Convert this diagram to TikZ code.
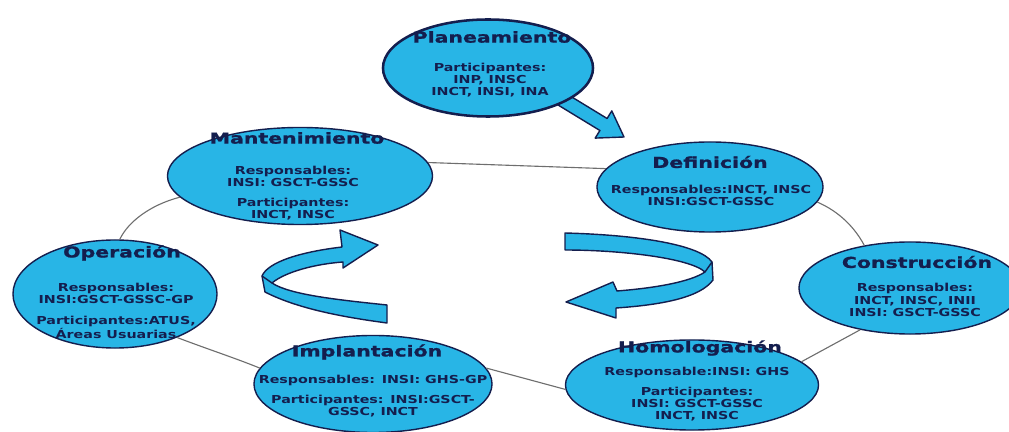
\documentclass[tikz,border=0pt]{standalone}
\usepackage{fontspec}
\usetikzlibrary{shapes.geometric}
\newfontfamily\phasefont[FakeStretch=1.3]{DejaVu Sans}
\newfontfamily\headfont[FakeStretch=1.36, FakeBold=1.2]{DejaVu Sans}
\definecolor{phasefill}{RGB}{40,181,230}
\definecolor{ink}{RGB}{20,30,78}
\definecolor{linkgray}{RGB}{110,110,110}
\tikzset{
  phase/.style={ellipse, draw=ink, line width=1pt, fill=phasefill, inner sep=0pt},
  ttl/.style={font=\headfont\bfseries\fontsize{10.7}{12}\selectfont, text=ink, inner sep=0pt},
  body/.style={font=\phasefont\bfseries\fontsize{7.8}{8.6}\selectfont, text=ink, align=center, inner sep=0pt},
  link/.style={draw=linkgray, line width=0.8pt},
  ribbon/.style={fill=phasefill, draw=ink, line width=1pt, line join=round},
}
\begin{document}
\begin{tikzpicture}[x=0.025cm, y=-0.025cm]
\useasboundingbox (0,0) rectangle (1009,432);

% block arrow leaving the planning phase
\path[ribbon] (556.4,104) -- (599.9,130.5) -- (595.2,138.1) -- (624,137)
  -- (611.8,110.9) -- (607.1,118.5) -- (563.6,92) -- cycle;

% phases of the cycle
\node[phase, line width=1.8pt, minimum width=5.25cm, minimum height=2.425cm] (plan) at (488,68) {};
\node[phase, minimum width=6.625cm, minimum height=2.425cm] (mant) at (300,176) {};
\node[phase, minimum width=5.65cm, minimum height=2.25cm] (def) at (710,187) {};
\node[phase, minimum width=5.1cm, minimum height=2.7cm] (oper) at (115,294) {};
\node[phase, minimum width=5.55cm, minimum height=2.3cm] (constr) at (910,288) {};
\node[phase, minimum width=5.95cm, minimum height=2.425cm] (impl) at (373,384) {};
\node[phase, minimum width=6.325cm, minimum height=2.25cm] (homo) at (692,385) {};

% thin links between neighbouring phases
\draw[link] (mant.6) -- (def.170);
\draw[link] (oper.85) .. controls (128,222) and (150,205) .. (mant.190);
\draw[link] (def.-8) .. controls (840,212) and (855,228) .. (constr.137);
\draw[link] (constr.220) -- (homo.12);
\draw[link] (impl.8) -- (homo.182);
\draw[link] (oper.-35) .. controls (210,350) and (235,358) .. (impl.172);

% phase titles and participants
\node[ttl] (planT) at (492,37) {Planeamiento};
\node[body] (planB) at (490,80) {Participantes:\\INP, INSC\\INCT, INSI, INA};

\node[ttl] (mantT) at (297,138) {Mantenimiento};
\node[body] (mantB) at (293,193) {Responsables:\\INSI: GSCT-GSSC\\[6pt]Participantes:\\INCT, INSC};

\node[ttl] (defT) at (710,162) {Definición};
\node[body] (defB) at (711,195) {Responsables:INCT, INSC\\INSI:GSCT-GSSC};

\node[ttl] (operT) at (122,253) {Operación};
\node[body] (operB) at (116,311) {Responsables:\\INSI:GSCT-GSSC-GP\\[6pt]Participantes:ATUS,\\Áreas Usuarias};

\node[ttl] (constrT) at (917,262) {Construcción};
\node[body] (constrB) at (915,300) {Responsables:\\INCT, INSC, INII\\INSI: GSCT-GSSC};

\node[ttl] (implT) at (367,352) {Implantación};
\node[body] (implB) at (373,396) {Responsables: INSI: GHS-GP\\[6pt]Participantes: INSI:GSCT-\\GSSC, INCT};

\node[ttl] (homoT) at (700,348) {Homologación};
\node[body] (homoB) at (697,394) {Responsable:INSI: GHS\\[6pt]Participantes:\\INSI: GSCT-GSSC\\INCT, INSC};

% twisted ribbon arrow, left (turning back to the right)
\path[ribbon] (378,245) -- (340,230) -- (342,247)
  .. controls (300,252) and (268,262) .. (262,276) -- (265,292)
  .. controls (300,310) and (350,318) .. (387,323) -- (387,305)
  .. controls (340,300) and (290,295) .. (272,283)
  .. controls (285,272) and (315,264) .. (343,262) -- (343,268) -- cycle;
\draw[ink, line width=1pt] (262,276) -- (272,283);

% twisted ribbon arrow, right (turning back to the left)
\path[ribbon] (565,233) .. controls (640,235) and (700,245) .. (712,262)
  -- (713,280) .. controls (700,298) and (660,305) .. (616,308)
  -- (616,318) -- (566,302) -- (613,282) -- (617,291)
  .. controls (655,288) and (690,282) .. (705,272)
  .. controls (690,258) and (620,250) .. (565,250) -- cycle;
\draw[ink, line width=1pt] (712,262) -- (705,272);
\end{tikzpicture}
\end{document}
